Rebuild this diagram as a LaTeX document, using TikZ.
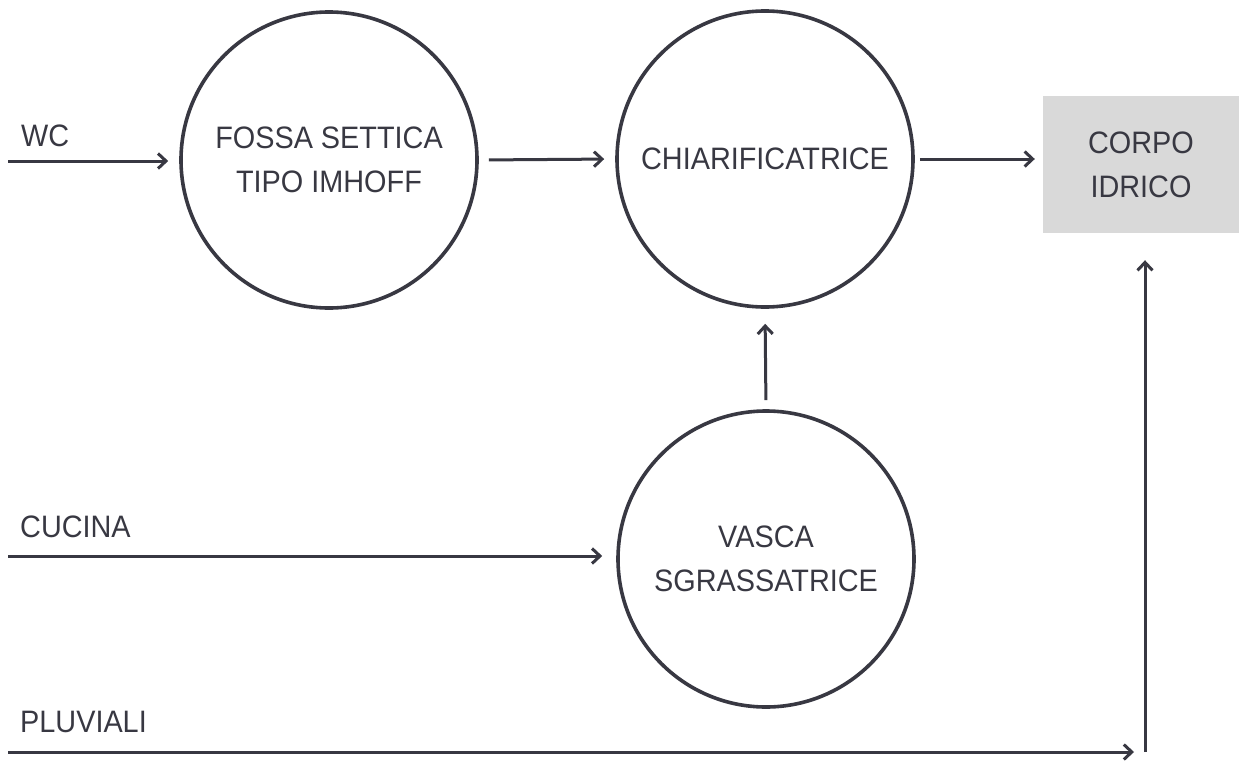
\documentclass[tikz,border=0pt]{standalone}
\usepackage{fontspec}
\setmainfont{Liberation Sans}[FakeStretch=0.93]
\usetikzlibrary{arrows.meta}
\definecolor{ink}{HTML}{383842}
\definecolor{boxgray}{HTML}{D9D9D9}
\begin{document}
\begin{tikzpicture}[x=1pt,y=-1pt,
  txt/.style={text=ink,font=\fontsize{31}{44}\selectfont},
  proc/.style={txt,circle,draw=ink,line width=3.6pt,minimum size=296pt,inner sep=0pt,align=center},
  sink/.style={txt,rectangle,fill=boxgray,minimum width=196pt,minimum height=137pt,inner sep=0pt,align=center},
  lbl/.style={txt,anchor=base west,inner sep=0pt},
  flow/.style={draw=ink,line width=3pt,-{Straight Barb[length=8pt,width=15pt,line width=3pt]}}]
\useasboundingbox[fill=white] (0,0) rectangle (1239,763);

\node[proc] (c1) at (329,160) {FOSSA SETTICA\\TIPO IMHOFF};
\node[proc] (c2) at (765,159) {CHIARIFICATRICE};
\node[proc] (c3) at (766,559) {VASCA\\SGRASSATRICE};
\node[sink] (r) at (1141,164.5) {CORPO\\IDRICO};

\node[lbl] (lwc) at (21,146) {WC};
\node[lbl] (lcu) at (20,537) {CUCINA};
\node[lbl] (lpl) at (20,732) {PLUVIALI};

\coordinate (wc0) at (8,161);
\coordinate (cu0) at (8,556);
\coordinate (pl0) at (8,752);
\coordinate (pl1) at (1145,752);

\draw[flow,shorten >=11pt] (wc0) -- (wc0 -| c1.west);
\draw[flow,shorten <=10pt,shorten >=11pt] (c1.east) -- (c2.west);
\draw[flow,shorten <=5pt,shorten >=8pt] (c2.east) -- (c2.east -| r.west);
\draw[flow,shorten <=9pt,shorten >=15pt] (c3.north) -- (c2.south);
\draw[flow,shorten >=14pt] (cu0) -- (cu0 -| c3.west);
\draw[flow,shorten >=11pt] (pl0) -- (pl1);
\draw[flow,shorten >=27pt] (pl1) -- (pl1 |- r.south);
\end{tikzpicture}
\end{document}
